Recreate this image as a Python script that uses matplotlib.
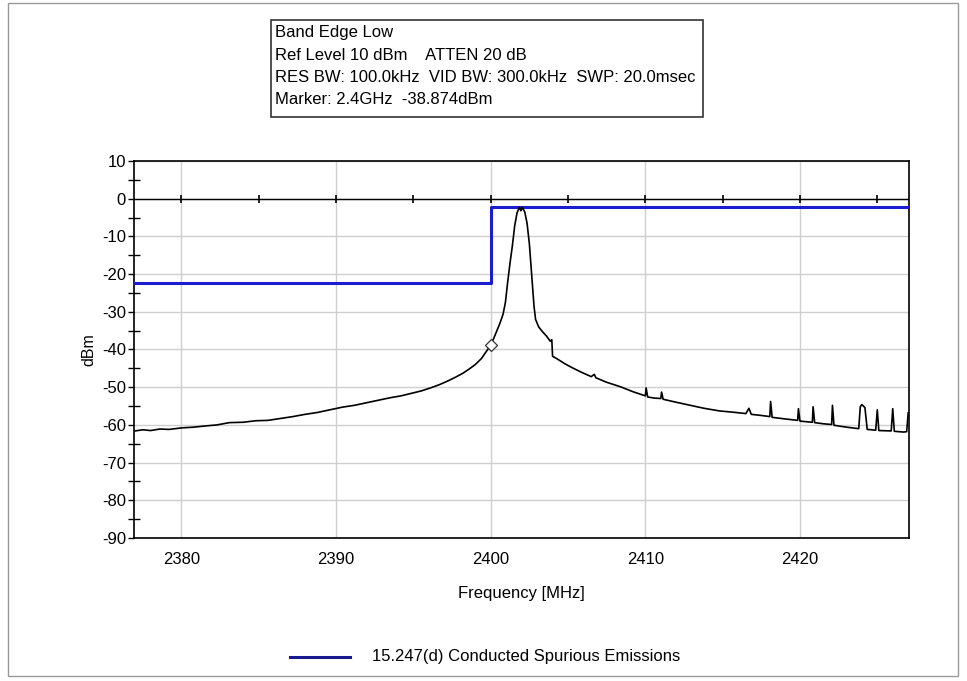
import matplotlib.pyplot as plt
from matplotlib.patches import Rectangle
from matplotlib.lines import Line2D

plt.rcParams['font.family'] = ['Liberation Sans', 'DejaVu Sans']
plt.rcParams['axes.unicode_minus'] = False

# trace (MHz, dBm)
freq = [2377.0, 2377.5, 2378.0, 2378.6, 2379.2, 2380.0, 2380.8, 2381.5, 2382.3, 2383.1,
        2384.0, 2384.8, 2385.6, 2386.4, 2387.2, 2388.0, 2388.8, 2389.6, 2390.4, 2391.2,
        2392.0, 2392.8, 2393.5, 2394.2, 2394.9, 2395.5, 2396.1, 2396.7, 2397.2, 2397.7,
        2398.2, 2398.6, 2399.0, 2399.4, 2399.7, 2400.0, 2400.2, 2400.4, 2400.6, 2400.8,
        2400.95, 2401.1, 2401.25, 2401.4, 2401.55, 2401.7, 2401.85, 2401.95, 2402.05, 2402.2,
        2402.35, 2402.5, 2402.6, 2402.7, 2402.8, 2402.9, 2403.1, 2403.35, 2403.6, 2403.85,
        2403.95, 2404.0, 2404.3, 2404.8, 2405.3, 2405.9, 2406.5, 2406.7, 2406.8, 2407.5,
        2408.4, 2409.2, 2410.0, 2410.05, 2410.15, 2410.6, 2411.0, 2411.05, 2411.15, 2412.0,
        2412.9, 2413.8, 2414.8, 2415.6, 2416.5, 2416.7, 2416.85, 2417.5, 2418.05, 2418.1,
        2418.2, 2419.0, 2419.85, 2419.9, 2420.0, 2420.8, 2420.85, 2420.95, 2421.5, 2422.05,
        2422.1, 2422.2, 2423.0, 2423.8, 2423.9, 2424.0, 2424.2, 2424.35, 2424.9, 2425.0,
        2425.1, 2425.9, 2426.0, 2426.1, 2426.7, 2426.9, 2427.0]
level = [-61.6, -61.3, -61.5, -61.1, -61.2, -60.8, -60.6, -60.3, -60.0, -59.4,
         -59.3, -58.9, -58.8, -58.3, -57.8, -57.2, -56.7, -56.0, -55.3, -54.8,
         -54.1, -53.4, -52.8, -52.3, -51.6, -51.0, -50.2, -49.3, -48.4, -47.4,
         -46.3, -45.2, -44.0, -42.4, -40.6, -38.9, -37.0, -35.0, -33.0, -30.6,
         -27.5, -22.0, -17.0, -12.5, -7.2, -3.8, -2.3, -3.2, -2.4, -3.5,
         -6.5, -12.0, -17.5, -23.0, -28.5, -32.0, -34.0, -35.3, -36.4, -37.8,
         -37.4, -41.8, -42.5, -43.8, -44.9, -46.1, -47.2, -46.6, -47.5, -48.7,
         -49.9, -51.2, -52.3, -50.2, -52.6, -52.9, -53.0, -51.3, -53.2, -54.0,
         -54.8, -55.6, -56.3, -56.6, -57.0, -55.6, -57.2, -57.5, -57.8, -53.8,
         -58.0, -58.4, -58.8, -55.7, -59.0, -59.3, -55.2, -59.4, -59.7, -59.9,
         -54.8, -60.1, -60.6, -61.0, -55.2, -54.6, -55.4, -61.2, -61.4, -56.0,
         -61.5, -61.6, -55.7, -61.7, -61.9, -61.8, -56.8]

# 15.247(d) limit line
limit_freq = [2377.0, 2400.0, 2400.0, 2427.0]
limit_level = [-22.4, -22.4, -2.2, -2.2]

marker_freq = 2400.0
marker_level = -38.874

zero_ticks = [2380, 2385, 2390, 2395, 2400, 2405, 2410, 2415, 2420, 2425]
x_ticks = [2380, 2390, 2400, 2410, 2420]
y_ticks = [10, 0, -10, -20, -30, -40, -50, -60, -70, -80, -90]
y_minor = [5, -5, -15, -25, -35, -45, -55, -65, -75, -85]

info_lines = ['Band Edge Low',
              'Ref Level 10 dBm    ATTEN 20 dB',
              'RES BW: 100.0kHz  VID BW: 300.0kHz  SWP: 20.0msec',
              'Marker: 2.4GHz  -38.874dBm']

fig = plt.figure(figsize=(9.67, 6.81), dpi=100)
ax = fig.add_axes([0.1389, 0.21, 0.8011, 0.5536])

ax.plot(limit_freq, limit_level, color='#1c1cd0', lw=2.2, zorder=3)
ax.plot(freq, level, color='black', lw=1.2, zorder=4)
ax.plot([marker_freq], [marker_level], marker='D', ms=6, mfc='white', mec='#333333',
        mew=0.9, zorder=5)

# zero line with its tick marks
ax.axhline(0, color='black', lw=1.0, zorder=2)
ax.plot(zero_ticks, [0] * len(zero_ticks), ls='none', marker='|', ms=6, mew=1.2,
        color='black', zorder=2)

ax.set_xlim(2376.95, 2427.05)
ax.set_ylim(-90, 10)
ax.set_xticks(x_ticks)
ax.set_yticks(y_ticks)
ax.set_yticks(y_minor, minor=True)
ax.tick_params(axis='x', length=0, pad=10, labelsize=12)
ax.tick_params(axis='y', which='major', direction='out', length=4, width=1, pad=2, labelsize=12)
ax.tick_params(axis='y', which='minor', direction='inout', length=8, width=1)
ax.grid(True, color='#cfcfcf', lw=1.0)
ax.set_axisbelow(True)
for s in ax.spines.values():
    s.set_linewidth(1.2)

ax.set_xlabel('Frequency [MHz]', fontsize=12, labelpad=14)
ax.set_ylabel('dBm', fontsize=11.5, labelpad=4)

# info box at the top
fig.patches.append(Rectangle((271 / 967, 1 - 117 / 681), 432 / 967, 97 / 681,
                             transform=fig.transFigure, fill=False, ec='#333333', lw=1.2))
for i, t in enumerate(info_lines):
    fig.text(275 / 967, 1 - (33 + 22.3 * i) / 681, t, fontsize=12, va='center', ha='left')

# legend under the plot
fig.lines.append(Line2D([290 / 967, 350 / 967], [1 - 657 / 681, 1 - 657 / 681],
                        transform=fig.transFigure, color='#181890', lw=2.2))
fig.text(372 / 967, 1 - 657 / 681, '15.247(d) Conducted Spurious Emissions',
         fontsize=12, va='center', ha='left')

# outer frame
fig.patches.append(Rectangle((8 / 967, 5 / 681), 950 / 967, 673 / 681,
                             transform=fig.transFigure, fill=False, ec='#9a9a9a', lw=1.0))

fig.savefig('out.png', dpi=100)
